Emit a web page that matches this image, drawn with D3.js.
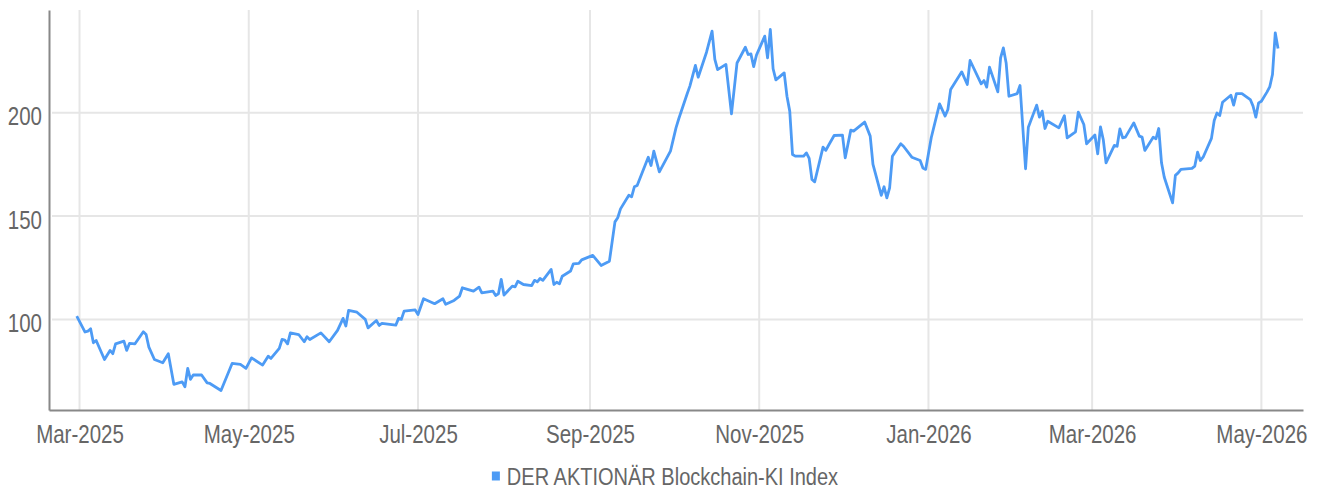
<!DOCTYPE html>
<html>
<head>
<meta charset="utf-8">
<script src="https://cdn.jsdelivr.net/npm/d3@7"></script>
<style>
  body { margin: 0; background: #fff; }
  svg text { font-family: "Liberation Sans", Arial, sans-serif; fill: #666; }
</style>
</head>
<body>
<script>
// index values
var dates = [
  "2025-02-28","2025-03-03","2025-03-04","2025-03-05","2025-03-06","2025-03-07","2025-03-10","2025-03-12","2025-03-13","2025-03-14",
  "2025-03-17","2025-03-18","2025-03-19","2025-03-21","2025-03-24","2025-03-25","2025-03-26","2025-03-28","2025-03-31","2025-04-02",
  "2025-04-04","2025-04-07","2025-04-08","2025-04-09","2025-04-10","2025-04-11","2025-04-14","2025-04-16","2025-04-17","2025-04-21",
  "2025-04-25","2025-04-28","2025-04-30","2025-05-02","2025-05-06","2025-05-08","2025-05-09","2025-05-12","2025-05-13","2025-05-14",
  "2025-05-15","2025-05-16","2025-05-19","2025-05-21","2025-05-22","2025-05-23","2025-05-27","2025-05-30","2025-06-02","2025-06-04",
  "2025-06-05","2025-06-06","2025-06-09","2025-06-12","2025-06-13","2025-06-16","2025-06-17","2025-06-18","2025-06-23","2025-06-24",
  "2025-06-25","2025-06-26","2025-06-30","2025-07-01","2025-07-03","2025-07-07","2025-07-10","2025-07-11","2025-07-14","2025-07-16",
  "2025-07-17","2025-07-21","2025-07-23","2025-07-24","2025-07-28","2025-07-29","2025-07-30","2025-07-31","2025-08-01","2025-08-04",
  "2025-08-05","2025-08-06","2025-08-08","2025-08-11","2025-08-12","2025-08-13","2025-08-14","2025-08-15","2025-08-18","2025-08-19",
  "2025-08-20","2025-08-21","2025-08-22","2025-08-25","2025-08-26","2025-08-28","2025-08-29","2025-09-02","2025-09-05","2025-09-08",
  "2025-09-10","2025-09-11","2025-09-12","2025-09-15","2025-09-16","2025-09-17","2025-09-18","2025-09-22","2025-09-23","2025-09-24",
  "2025-09-26","2025-09-30","2025-10-02","2025-10-03","2025-10-06","2025-10-07","2025-10-09","2025-10-10","2025-10-13","2025-10-15",
  "2025-10-16","2025-10-17","2025-10-20","2025-10-22","2025-10-24","2025-10-27","2025-10-28","2025-10-29","2025-10-30","2025-10-31",
  "2025-11-03","2025-11-04","2025-11-05","2025-11-06","2025-11-07","2025-11-10","2025-11-11","2025-11-12","2025-11-13","2025-11-14",
  "2025-11-17","2025-11-18","2025-11-19","2025-11-20","2025-11-21","2025-11-24","2025-11-25","2025-11-26","2025-11-28","2025-12-01",
  "2025-12-02","2025-12-04","2025-12-05","2025-12-09","2025-12-11","2025-12-12","2025-12-15","2025-12-16","2025-12-17","2025-12-18",
  "2025-12-19","2025-12-22","2025-12-23","2025-12-26","2025-12-29","2025-12-30","2025-12-31","2026-01-02","2026-01-05","2026-01-07",
  "2026-01-08","2026-01-09","2026-01-13","2026-01-15","2026-01-16","2026-01-20","2026-01-21","2026-01-22","2026-01-23","2026-01-26",
  "2026-01-27","2026-01-28","2026-01-29","2026-01-30","2026-02-02","2026-02-03","2026-02-05","2026-02-06","2026-02-09","2026-02-10",
  "2026-02-11","2026-02-12","2026-02-13","2026-02-17","2026-02-19","2026-02-20","2026-02-23","2026-02-24","2026-02-26","2026-02-27",
  "2026-03-02","2026-03-03","2026-03-04","2026-03-05","2026-03-06","2026-03-09","2026-03-10","2026-03-11","2026-03-12","2026-03-13",
  "2026-03-16","2026-03-18","2026-03-19","2026-03-20","2026-03-23","2026-03-24","2026-03-25","2026-03-26","2026-03-27","2026-03-30",
  "2026-03-31","2026-04-01","2026-04-02","2026-04-06","2026-04-07","2026-04-08","2026-04-09","2026-04-10","2026-04-13","2026-04-14",
  "2026-04-15","2026-04-16","2026-04-17","2026-04-20","2026-04-21","2026-04-22","2026-04-24","2026-04-27","2026-04-28","2026-04-29",
  "2026-04-30","2026-05-01","2026-05-03","2026-05-04","2026-05-05","2026-05-06","2026-05-07"
];
var values = [
  101.6,93.9,94.3,95.5,88.7,89.8,80.6,85.0,83.4,88.2,
  89.5,85.0,88.4,88.2,94.0,92.7,86.6,80.6,79.0,83.4,
  68.6,69.8,67.4,76.3,71.0,73.1,73.1,69.3,69.0,65.6,
  78.7,78.2,76.3,81.4,77.9,82.2,81.1,86.0,90.3,90.0,
  88.2,93.5,92.7,89.2,91.6,90.3,93.5,89.2,94.7,100.5,
  96.8,104.4,103.5,100.0,95.9,99.5,97.1,98.1,97.2,100.5,
  100.0,104.0,104.6,102.4,110.0,107.6,110.0,107.3,109.2,111.3,
  115.3,113.7,115.6,112.9,113.7,111.6,112.4,119.4,111.8,116.1,
  115.8,118.5,116.9,116.4,118.9,118.2,119.8,118.9,124.2,116.9,
  118.0,117.2,120.9,123.4,126.9,127.1,128.8,131.0,126.1,128.2,
  147.2,149.2,153.5,160.1,159.3,164.2,164.8,178.5,174.5,181.4,
  171.4,181.4,192.7,197.1,209.1,212.9,222.9,217.2,229.3,239.5,
  225.8,220.9,223.4,199.5,224.1,231.7,228.2,228.5,222.3,227.9,
  237.1,226.6,240.3,221.3,215.9,219.3,208.0,200.8,179.8,179.0,
  179.0,180.6,177.9,167.7,166.6,183.4,181.8,184.3,189.0,189.2,
  178.2,191.6,191.1,195.5,188.7,175.0,160.0,164.2,158.8,163.7,
  179.0,185.0,183.8,178.5,176.9,173.3,172.6,187.9,204.3,198.4,
  201.6,211.3,219.8,213.7,225.3,214.0,215.6,212.4,222.1,210.1,
  226.6,231.4,224.1,208.0,209.3,213.2,172.9,193.0,203.7,197.9,
  200.8,192.4,195.9,192.7,198.6,187.9,190.8,200.3,194.3,185.0,
  189.2,180.1,193.2,187.1,175.8,184.2,183.8,192.2,187.9,188.2,
  195.1,188.7,188.2,181.8,188.2,187.4,192.4,175.8,168.8,156.4,
  169.7,170.9,172.6,173.1,174.2,180.9,176.9,178.5,187.6,196.3,
  199.9,198.7,205.1,208.5,203.7,209.3,209.3,206.4,203.2,197.9,
  204.8,205.6,210.0,212.5,218.5,238.7,231.1
];
var yTicks = [100, 150, 200];
var seriesName = "DER AKTIONÄR Blockchain-KI Index";

var W = 1320, H = 490;
var margin = {top: 10, right: 17, bottom: 80, left: 49};
var lineColor = "#4d9bf5";
var narrow = 0.82; // no condensed font installed, squeeze the glyphs instead
var legendNarrow = 0.87;

var parse = d3.timeParse("%Y-%m-%d");
var data = dates.map(function(d, i){ return {date: parse(d), value: values[i]}; });

var svg = d3.select("body").append("svg")
  .attr("width", W)
  .attr("height", H);

var ext = d3.extent(data, function(d){ return d.date; });
var x = d3.scaleTime()
  .domain([d3.timeDay.offset(ext[0], -10), d3.timeDay.offset(ext[1], 9)])
  .range([margin.left, W - margin.right]);

var vext = d3.extent(values);
var pad = (vext[1] - vext[0]) * 0.054;
var y = d3.scaleLinear()
  .domain([vext[0] - pad, vext[1] + pad])
  .range([H - margin.bottom, margin.top]);

var monthTicks = d3.timeMonth.every(2).range(d3.timeMonth.ceil(x.domain()[0]), x.domain()[1]);

// grid
var grid = svg.append("g").attr("class", "grid");
grid.selectAll("line.v")
  .data(monthTicks)
  .enter()
  .append("line")
  .attr("class", "v")
  .attr("x1", function(d){ return x(d); })
  .attr("x2", function(d){ return x(d); })
  .attr("y1", margin.top)
  .attr("y2", H - margin.bottom)
  .attr("stroke", "#e6e6e6")
  .attr("stroke-width", 2);
grid.selectAll("line.h")
  .data(yTicks)
  .enter()
  .append("line")
  .attr("class", "h")
  .attr("x1", margin.left + 3)
  .attr("x2", W - margin.right)
  .attr("y1", function(d){ return y(d); })
  .attr("y2", function(d){ return y(d); })
  .attr("stroke", "#e6e6e6")
  .attr("stroke-width", 2);

// axes
var xAxis = svg.append("g")
  .attr("transform", "translate(0," + (H - margin.bottom) + ")")
  .call(d3.axisBottom(x).tickValues(monthTicks).tickSize(0).tickPadding(0).tickFormat(d3.timeFormat("%b-%Y")));
xAxis.select(".domain").attr("stroke", "#888").attr("stroke-width", 2);
xAxis.selectAll("text")
  .attr("y", 33)
  .attr("dy", null)
  .attr("transform", "scale(" + narrow + ",1)")
  .style("font-size", "25px");

var yAxis = svg.append("g")
  .attr("transform", "translate(" + margin.left + ",0)")
  .call(d3.axisLeft(y).tickValues(yTicks).tickSize(0).tickPadding(0));
yAxis.select(".domain").attr("stroke", "#888").attr("stroke-width", 2);
yAxis.selectAll("text")
  .attr("x", -7 / narrow)
  .attr("dy", "12px")
  .attr("transform", "scale(" + narrow + ",1)")
  .style("font-size", "25px");

// series
var line = d3.line()
  .x(function(d){ return x(d.date); })
  .y(function(d){ return y(d.value); });

svg.append("path")
  .datum(data)
  .attr("fill", "none")
  .attr("stroke", lineColor)
  .attr("stroke-width", 2.8)
  .attr("stroke-linejoin", "round")
  .attr("d", line);

// legend
var legend = svg.append("g").attr("class", "legend");
legend.append("rect")
  .attr("x", 0)
  .attr("y", -13.5)
  .attr("width", 8)
  .attr("height", 9)
  .attr("fill", lineColor);
var lt = legend.append("text")
  .attr("x", 15 / legendNarrow)
  .attr("y", 0)
  .attr("transform", "scale(" + legendNarrow + ",1)")
  .style("font-size", "23px")
  .text(seriesName);
var lw = 15 + lt.node().getComputedTextLength() * legendNarrow;
legend.attr("transform", "translate(" + (665 - lw / 2) + "," + 485 + ")");
</script>
</body>
</html>
